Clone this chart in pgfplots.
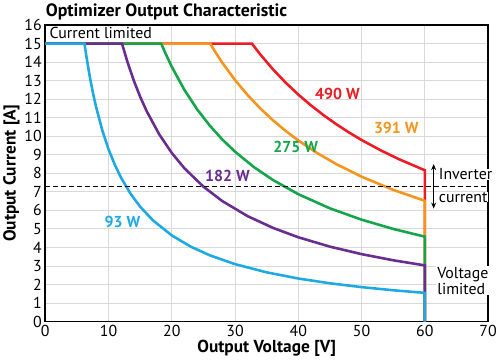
\documentclass[border=0pt]{standalone}
\usepackage{fontspec}
\setmainfont{PT Sans}
\usepackage{pgfplots}
\pgfplotsset{compat=1.18}
\usetikzlibrary{arrows.meta}
\definecolor{cblue}{RGB}{30,170,225}
\definecolor{cpurple}{RGB}{105,45,145}
\definecolor{cgreen}{RGB}{20,165,75}
\definecolor{corange}{RGB}{247,148,29}
\definecolor{cred}{RGB}{237,28,36}
\begin{document}
\begin{tikzpicture}
\begin{axis}[
  scale only axis, width=445bp, height=298bp,
  xmin=0, xmax=70, ymin=0, ymax=16,
  xtick={0,10,...,70}, ytick={0,1,...,16},
  grid=major, major grid style={gray!30, line width=0.9pt},
  major tick length=0pt,
  axis line style={line width=1.6pt},
  tick label style={font=\fontsize{16}{18}\selectfont},
  /pgf/number format/assume math mode=true,
  xlabel={Output Voltage [V]}, ylabel={Output Current [A]},
  label style={font=\bfseries\fontsize{17.5}{19}\selectfont},
  title={Optimizer Output Characteristic},
  title style={at={(0,1)}, anchor=south west, xshift=-3bp, yshift=-4bp, font=\bfseries\fontsize{18}{20}\selectfont},
  xticklabel style={yshift=0bp},
  yticklabel style={xshift=0bp},
  ylabel style={yshift=-2bp},
  xlabel style={yshift=3bp},
  clip=false,
]
\addplot[cred, line width=2.6pt] coordinates {(0,15) (32.667,15) (34,14.412) (36,13.611) (38,12.895) (40,12.25) (42,11.667) (44,11.136) (46,10.652) (48,10.208) (50,9.8) (53,9.245) (56,8.75) (60,8.167) (60,0)};
\addplot[corange, line width=2.6pt] coordinates {(0,15) (26.067,15) (27,14.481) (28,13.964) (30,13.033) (32,12.219) (34,11.5) (36,10.861) (38,10.289) (40,9.775) (43,9.093) (46,8.5) (50,7.82) (55,7.109) (60,6.517) (60,0)};
\addplot[cgreen, line width=2.6pt] coordinates {(0,15) (18.333,15) (19,14.474) (20,13.75) (22,12.5) (24,11.458) (26,10.577) (28,9.821) (30,9.167) (33,8.333) (36,7.639) (40,6.875) (45,6.111) (50,5.5) (55,5.0) (60,4.583) (60,0)};
\addplot[cpurple, line width=2.6pt] coordinates {(0,15) (12.133,15) (13,14.0) (14,13.0) (15,12.133) (16,11.375) (18,10.111) (20,9.1) (22,8.273) (25,7.28) (28,6.5) (32,5.6875) (36,5.056) (40,4.55) (45,4.044) (50,3.64) (55,3.309) (60,3.033) (60,0)};
\addplot[cblue, line width=2.6pt] coordinates {(0,15) (6.2,15) (6.5,14.308) (7,13.286) (7.5,12.4) (8,11.625) (9,10.333) (10,9.3) (11,8.455) (12,7.75) (13.5,6.889) (15,6.2) (17,5.471) (20,4.65) (23,4.043) (26,3.577) (30,3.1) (35,2.657) (40,2.325) (45,2.067) (50,1.86) (55,1.691) (60,1.55) (60,0)};
\addplot[black, line width=1.3pt, dash pattern=on 5pt off 3pt] coordinates {(0,7.3) (70,7.3)};
\draw[line width=1.1pt, {Stealth[length=6pt,width=5pt]}-{Stealth[length=6pt,width=5pt]}] (axis cs:61.4,8.5) -- (axis cs:61.4,6.1);
\begin{scope}[font=\fontsize{16}{18}\selectfont]
\node[anchor=west, fill=white, inner sep=1pt] at (axis cs:0.5,15.55) {Current limited};
\node[anchor=west, align=left, inner sep=0pt, fill=white] at (axis cs:62.2,7.95) {Inverter};
\node[anchor=west, align=left, inner sep=0pt, fill=white] at (axis cs:62.2,6.7) {current};
\node[anchor=west, align=left, inner sep=1pt, fill=white] at (axis cs:61.8,2.2) {Voltage\\[-2pt]limited};
\end{scope}
\begin{scope}[font=\bfseries\fontsize{16}{18}\selectfont]
\node[cred] at (axis cs:46.2,12.3) {490 W};
\node[corange] at (axis cs:55.5,10.45) {391 W};
\node[cgreen] at (axis cs:39.6,9.4) {275 W};
\node[cpurple] at (axis cs:28.8,7.85) {182 W};
\node[cblue] at (axis cs:12.2,5.4) {93 W};
\end{scope}
\end{axis}
\end{tikzpicture}
\end{document}
